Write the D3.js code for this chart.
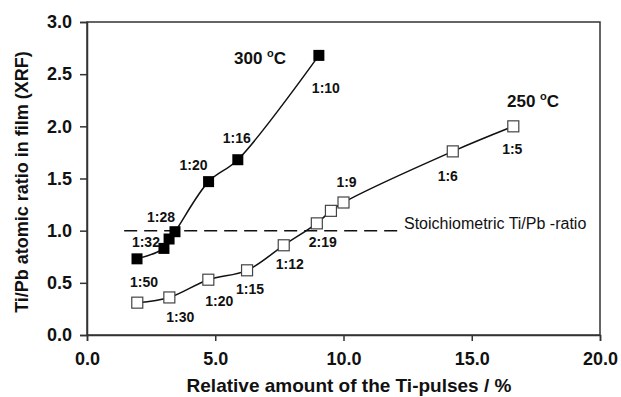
<!DOCTYPE html>
<html><head><meta charset="utf-8">
<script src="https://cdn.jsdelivr.net/npm/d3@7"></script>
<style>body{margin:0;background:#fff}svg{display:block}text{font-family:"Liberation Sans",Arial,sans-serif}</style>
</head><body>
<svg id="c" width="621" height="397"></svg>
<script>
// data
const xTicks = [0, 5, 10, 15, 20];
const yTicks = [0, 0.5, 1.0, 1.5, 2.0, 2.5, 3.0];
const s300x = [1.95, 3.0, 3.2, 3.43, 4.74, 5.88, 9.04];
const s300y = [0.73, 0.83, 0.92, 0.99, 1.47, 1.68, 2.68];
const s300labels = ["1:50", "1:32", "", "1:28", "1:20", "1:16", "1:10"];
const s250x = [1.96, 3.21, 4.73, 6.24, 7.67, 8.96, 9.51, 10.0, 14.26, 16.62];
const s250y = [0.31, 0.36, 0.53, 0.62, 0.86, 1.07, 1.19, 1.27, 1.76, 2.00];
const s250labels = ["", "1:30", "1:20", "1:15", "1:12", "2:19", "", "1:9", "1:6", "1:5"];
const stoichX = [1.45, 12.1];
const stoichY = 1.0;

// layout
const svg = d3.select("#c");
const L = 87, R = 600, T = 22, B = 335;
const x = d3.scaleLinear().domain([0, 20]).range([L, R]);
const y = d3.scaleLinear().domain([0, 3]).range([B, T]);
const ink = "#111";

// frame
svg.append("rect").attr("x", L).attr("y", T).attr("width", R - L).attr("height", B - T)
  .attr("fill", "none").attr("stroke", "#333").attr("stroke-width", 1.5);

// axes
const ax = svg.append("g").attr("transform", `translate(0,${B})`)
  .call(d3.axisBottom(x).tickValues(xTicks).tickFormat(d3.format(".1f")).tickSize(6).tickPadding(11));
const ay = svg.append("g").attr("transform", `translate(${L},0)`)
  .call(d3.axisLeft(y).tickValues(yTicks).tickFormat(d3.format(".1f")).tickSize(7).tickPadding(8));
[ax, ay].forEach(g => {
  g.select(".domain").attr("stroke", "#333").attr("stroke-width", 1.5);
  g.selectAll(".tick line").attr("stroke", "#333").attr("stroke-width", 1.5);
  g.selectAll(".tick text").attr("fill", ink).attr("font-size", 18).attr("font-weight", "bold")
    .attr("font-family", "Liberation Sans, Arial, sans-serif");
});

// axis titles
svg.append("text").attr("x", 349).attr("y", 392).attr("text-anchor", "middle")
  .attr("font-size", 19).attr("font-weight", "bold").attr("fill", ink)
  .text("Relative amount of the Ti-pulses / %");
svg.append("text").attr("transform", "translate(28,182) rotate(-90)").attr("text-anchor", "middle")
  .attr("font-size", 18).attr("font-weight", "bold").attr("fill", ink)
  .text("Ti/Pb atomic ratio in film (XRF)");

// stoichiometric line
svg.append("line").attr("x1", x(stoichX[0])).attr("x2", x(stoichX[1]))
  .attr("y1", y(stoichY)).attr("y2", y(stoichY))
  .attr("stroke", ink).attr("stroke-width", 1.5).attr("stroke-dasharray", "13,7");
svg.append("text").attr("x", 404).attr("y", y(stoichY) - 2).attr("font-size", 16).attr("fill", ink)
  .text("Stoichiometric Ti/Pb -ratio");

// series
const pts300 = s300x.map((v, i) => [v, s300y[i], s300labels[i]]);
const pts250 = s250x.map((v, i) => [v, s250y[i], s250labels[i]]);
const line300 = d3.line().x(d => x(d[0])).y(d => y(d[1])).curve(d3.curveCatmullRom.alpha(0.5));
const line250 = d3.line().x(d => x(d[0])).y(d => y(d[1])).curve(d3.curveCatmullRom.alpha(0.5));
svg.append("path").attr("d", line300(pts300)).attr("fill", "none").attr("stroke", ink).attr("stroke-width", 1.5);
svg.append("path").attr("d", line250(pts250)).attr("fill", "none").attr("stroke", ink).attr("stroke-width", 1.5);

const sz = 11;
svg.append("g").selectAll("rect").data(pts300).join("rect")
  .attr("x", d => x(d[0]) - sz / 2).attr("y", d => y(d[1]) - sz / 2)
  .attr("width", sz).attr("height", sz).attr("fill", "#000");
svg.append("g").selectAll("rect").data(pts250).join("rect")
  .attr("x", d => x(d[0]) - sz / 2).attr("y", d => y(d[1]) - sz / 2)
  .attr("width", sz).attr("height", sz).attr("fill", "#fff").attr("stroke", "#444").attr("stroke-width", 1.2);

// point label offsets (px, label centre relative to point)
const off300 = [[7, 23], [-18, -6], [0, 0], [-14, -15], [-15, -17], [-1, -22], [7, 33]];
const off250 = [[0, 0], [11, 20], [11, 21], [3, 19], [6, 19], [6, 19], [0, 0], [3, -20], [-5, 25], [-1, 23]];
function labels(pts, off) {
  svg.append("g").selectAll("text").data(pts.map((d, i) => [d, off[i]]).filter(e => e[0][2]))
    .join("text")
    .attr("x", e => x(e[0][0]) + e[1][0]).attr("y", e => y(e[0][1]) + e[1][1] + 5)
    .attr("text-anchor", "middle").attr("font-size", 14).attr("font-weight", "bold").attr("fill", ink)
    .text(e => e[0][2]);
}
labels(pts300, off300);
labels(pts250, off250);

// series titles
function title(tx, ty, num) {
  const t = svg.append("text").attr("x", tx).attr("y", ty).attr("font-size", 17)
    .attr("font-weight", "bold").attr("fill", ink);
  t.append("tspan").text(num + " ");
  t.append("tspan").attr("font-size", 11).attr("dy", -7).text("o");
  t.append("tspan").attr("dy", 7).text("C");
}
title(234, 64, "300");
title(507, 107, "250");
</script>
</body></html>
